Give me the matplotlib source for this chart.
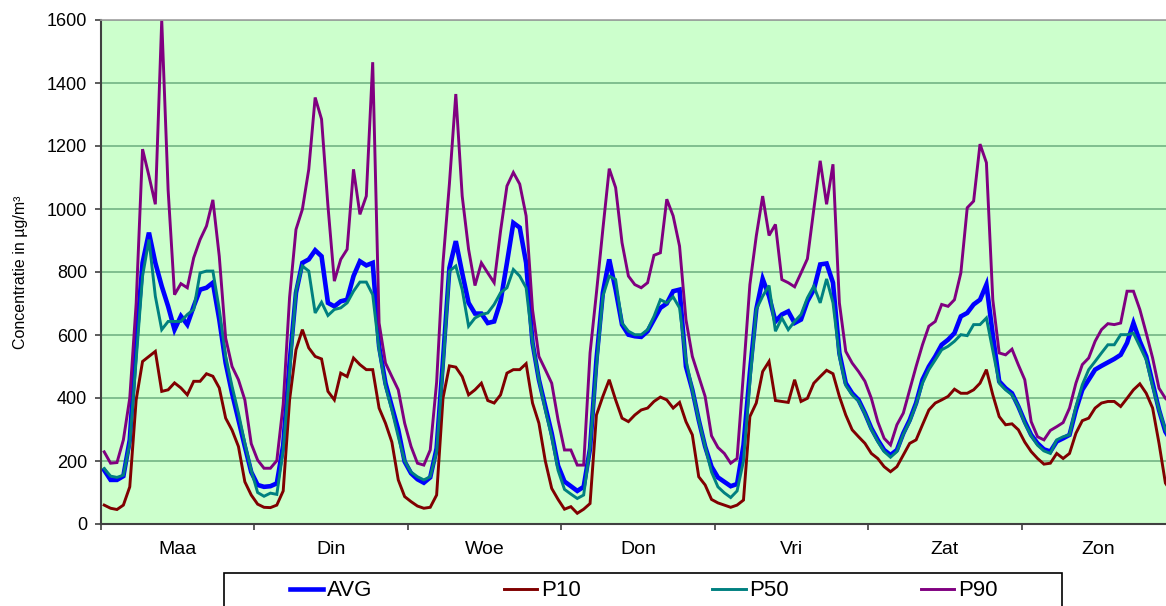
import numpy as np
import matplotlib
matplotlib.use("Agg")
import matplotlib.pyplot as plt
from matplotlib.patches import Rectangle

plt.rcParams["font.family"] = ["Liberation Sans", "DejaVu Sans"]

days = ["Maa", "Din", "Woe", "Don", "Vri", "Zat", "Zon"]

# hourly values (24 per day)
avg = [171, 140, 140, 152, 267, 575, 829, 925, 829, 755, 691, 617, 660, 633, 691, 744, 750, 766, 649, 511, 415, 330, 246, 165,
       124, 118, 120, 129, 250, 511, 734, 829, 840, 869, 850, 702, 691, 707, 712, 787, 834, 821, 829, 564, 447, 373, 299, 198,
       161, 142, 131, 148, 240, 521, 813, 898, 797, 702, 668, 668, 638, 643, 707, 829, 956, 941, 829, 575, 458, 373, 288, 185,
       135, 120, 105, 118, 240, 521, 734, 840, 744, 633, 601, 596, 594, 612, 649, 686, 700, 739, 744, 500, 426, 330, 246, 182,
       148, 134, 120, 127, 250, 480, 681, 778, 723, 643, 665, 675, 638, 649, 707, 744, 824, 827, 766, 543, 447, 415, 394, 352,
       304, 267, 235, 219, 235, 288, 330, 384, 458, 500, 532, 569, 585, 606, 659, 670, 697, 712, 760, 600, 453, 431, 415, 373,
       325, 283, 256, 237, 230, 262, 272, 283, 362, 426, 458, 490, 502, 513, 524, 537, 575, 638, 580, 532, 447, 362, 293, 260]

p10 = [60, 50, 46, 60, 118, 394, 516, 532, 548, 421, 426, 448, 432, 410, 453, 453, 477, 469, 432, 336, 298, 246, 134, 92,
       63, 53, 52, 60, 105, 394, 553, 617, 559, 532, 524, 421, 394, 479, 468, 527, 506, 490, 490, 368, 320, 260, 140, 87,
       71, 57, 50, 53, 92, 400, 502, 498, 468, 410, 426, 447, 392, 384, 410, 479, 490, 490, 509, 384, 320, 200, 113, 78,
       47, 55, 34, 47, 65, 346, 405, 458, 394, 336, 325, 346, 362, 368, 389, 403, 394, 368, 386, 325, 283, 150, 124, 78,
       67, 60, 53, 60, 76, 341, 384, 484, 516, 392, 389, 386, 458, 389, 399, 447, 468, 488, 477, 405, 346, 299, 277, 256,
       224, 208, 182, 166, 182, 219, 256, 267, 315, 362, 384, 394, 405, 428, 415, 415, 426, 447, 490, 410, 341, 315, 318, 299,
       260, 230, 208, 190, 193, 224, 208, 224, 288, 328, 336, 368, 384, 389, 389, 373, 399, 426, 445, 415, 368, 256, 130, 100]

p50 = [176, 152, 148, 155, 256, 521, 787, 903, 723, 617, 643, 643, 643, 665, 681, 797, 803, 803, 681, 532, 437, 352, 256, 170,
       100, 88, 98, 94, 235, 480, 740, 819, 803, 670, 704, 662, 681, 686, 702, 739, 768, 768, 728, 553, 437, 362, 277, 200,
       165, 150, 140, 150, 230, 500, 803, 819, 744, 628, 654, 665, 670, 697, 734, 750, 808, 787, 750, 575, 458, 362, 277, 170,
       110, 95, 81, 92, 245, 500, 723, 787, 776, 638, 612, 601, 601, 617, 659, 712, 702, 721, 686, 521, 426, 330, 246, 165,
       118, 99, 84, 105, 200, 450, 681, 723, 757, 612, 654, 617, 643, 665, 718, 755, 702, 778, 702, 532, 440, 410, 390, 350,
       300, 262, 230, 212, 230, 285, 325, 380, 447, 490, 521, 553, 564, 580, 601, 598, 633, 633, 654, 550, 447, 426, 410, 373,
       320, 280, 250, 232, 224, 267, 277, 283, 373, 442, 490, 516, 543, 569, 569, 601, 601, 606, 564, 521, 437, 362, 299, 260]

p90 = [229, 193, 195, 267, 400, 700, 1190, 1105, 1015, 1600, 1060, 728, 763, 750, 845, 903, 946, 1029, 850, 590, 500, 458, 394, 255,
       203, 177, 177, 201, 380, 720, 935, 999, 1126, 1354, 1285, 1010, 771, 840, 872, 1126, 983, 1041, 1466, 638, 511, 468, 426, 320,
       246, 193, 187, 235, 450, 830, 1080, 1365, 1041, 872, 757, 829, 797, 766, 930, 1073, 1116, 1079, 978, 681, 532, 490, 447, 330,
       235, 235, 187, 187, 543, 734, 935, 1128, 1068, 893, 787, 760, 750, 766, 853, 861, 1031, 978, 882, 649, 532, 468, 405, 280,
       243, 224, 193, 208, 480, 760, 914, 1041, 916, 951, 776, 766, 753, 797, 842, 999, 1153, 1015, 1142, 702, 548, 511, 484, 453,
       399, 325, 272, 251, 315, 352, 426, 500, 569, 628, 643, 697, 691, 712, 797, 1004, 1025, 1206, 1147, 712, 543, 537, 555, 505,
       458, 325, 277, 267, 297, 309, 322, 368, 447, 506, 527, 580, 617, 636, 633, 638, 739, 739, 681, 606, 527, 431, 399, 380]

series = [("AVG", avg, "#0000ff", 3.3), ("P10", p10, "#800000", 2.1),
          ("P50", p50, "#008080", 2.1), ("P90", p90, "#800080", 2.1)]

W, H = 1166, 606
fig = plt.figure(figsize=(W / 100, H / 100), dpi=100)
ax = fig.add_axes([101 / W, (H - 524) / H, (1175 - 101) / W, (524 - 20) / H])
ax.set_facecolor("#ccffcc")

x = np.arange(len(avg)) + 0.5
for name, vals, col, lw in series:
    ax.plot(x, vals, color=col, lw=lw, label=name, solid_joinstyle="miter")

ax.set_xlim(0, 168)
ax.set_ylim(0, 1600)
ax.set_yticks(np.arange(0, 1601, 200))
ax.yaxis.grid(True, color="#7fbf8f", lw=1.4)
ax.set_axisbelow(True)
ax.set_xticks(np.arange(0, 169, 24))
ax.set_xticklabels([])
ax.set_xticks(np.arange(12, 168, 24), minor=True)
ax.set_xticklabels(days, minor=True, fontsize=14)
ax.tick_params(axis="x", which="minor", length=0, pad=12)
ax.tick_params(axis="x", which="major", length=4, width=1.2, color="#404040")
ax.tick_params(axis="y", length=4, width=1.2, color="#404040", labelsize=13, pad=6)

for s in ["left", "bottom"]:
    ax.spines[s].set_color("#404040")
    ax.spines[s].set_linewidth(1.5)
ax.spines["top"].set_color("#a0a0a0")
ax.spines["top"].set_linewidth(1.2)
ax.spines["right"].set_visible(False)

ax.set_ylabel("Concentratie in µg/m³", fontsize=11.5)
ax.yaxis.set_label_coords(-0.068, 0.5)

# legend box (bottom cut off in the original)
fig.patches.append(Rectangle((224 / W, -0.05), (1062 - 224) / W, 0.05 + (H - 573) / H,
                             transform=fig.transFigure, fill=False, ec="black", lw=1.2))
fig.legend(loc="center left", bbox_to_anchor=(290 / W, (H - 591) / H), ncol=4,
           frameon=False, fontsize=16, handlelength=1.49, handletextpad=0.18,
           columnspacing=5.92, borderpad=0, borderaxespad=0)

fig.savefig("out.png", dpi=100)
